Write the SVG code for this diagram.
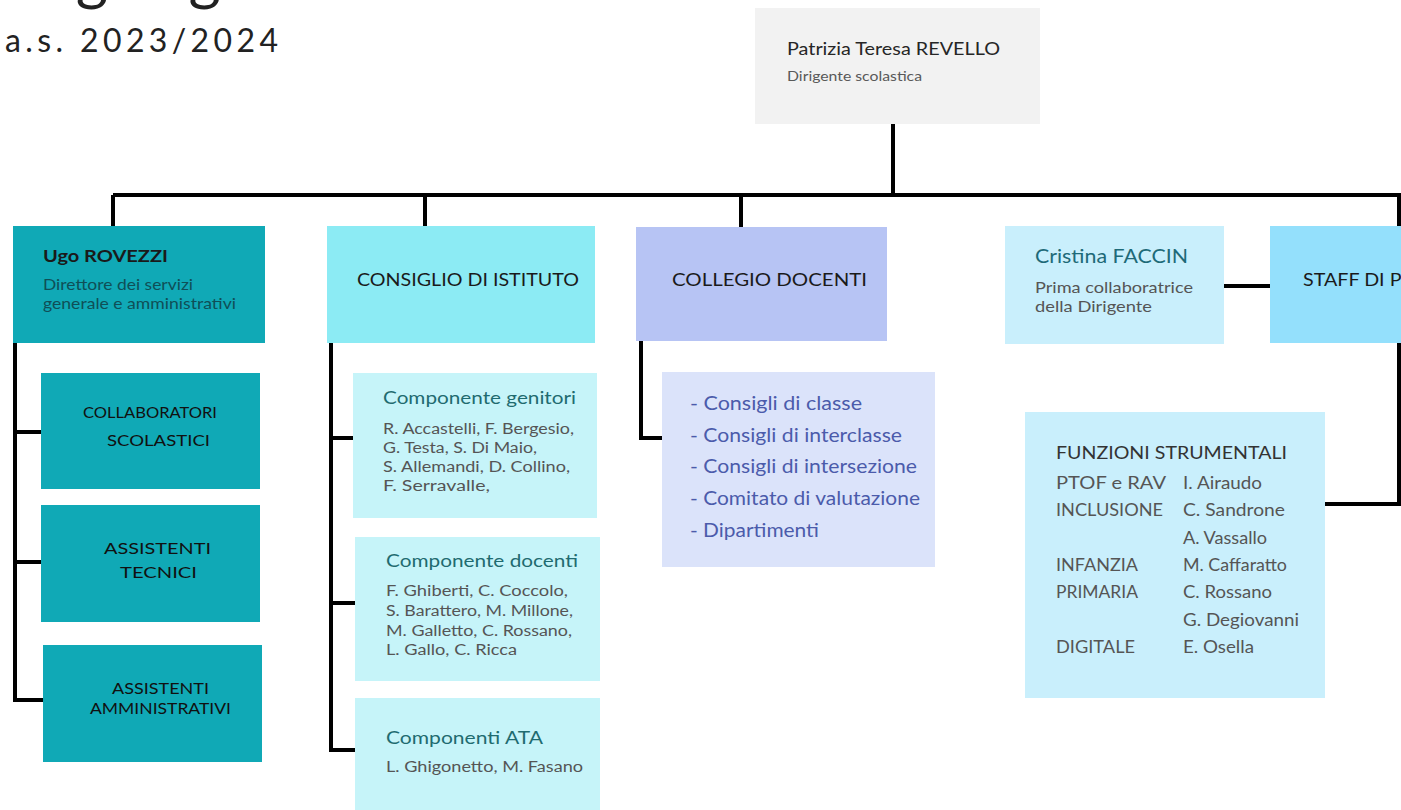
<svg xmlns="http://www.w3.org/2000/svg" width="1401" height="810" viewBox="0 0 1401 810">
<style>
text{font-family:Lato,"Open Sans","Liberation Sans",sans-serif}
.conn{fill:none;stroke:#000;stroke-width:4;stroke-linejoin:miter}
.hd{font-size:17px;fill:#1a1a1a}
.teal{fill:#10a9b6}
.cap{font-size:16px;fill:#111}
.ct{font-size:17px;fill:#1f6b70}
.cl{font-size:15.5px;fill:#555}
.fs{font-size:16.5px;fill:#555}
.li{font-size:19.5px;fill:#4b5bab}
</style>
<text x="5" y="-2" font-size="62" fill="#222">Organigramma</text>
<text x="5" y="52" font-size="32" fill="#222" textLength="273" lengthAdjust="spacing">a.s. 2023/2024</text>

<g id="connectors">
<path class="conn" d="M893 124V195M113 195H1399V504H1325M113 195V226M425 195V227M741 195V228"/>
<path class="conn" d="M15 343V700H43M15 432H41M15 562H41"/>
<path class="conn" d="M331 343V750H355M331 438H353M331 603H355"/>
<path class="conn" d="M641 341V438H662"/>
<path class="conn" d="M1224 286H1270"/>
</g>

<g id="dirigente">
<rect x="755" y="8" width="285" height="116" fill="#f2f2f2"/>
<text x="787" y="55" font-size="18" fill="#262626" textLength="213" lengthAdjust="spacingAndGlyphs">Patrizia Teresa REVELLO</text>
<text x="787" y="81" font-size="14" fill="#595959" textLength="135" lengthAdjust="spacingAndGlyphs">Dirigente scolastica</text>
</g>

<g id="dsga">
<rect class="teal" x="13" y="226" width="252" height="117"/>
<text x="43" y="262" font-size="17" font-weight="bold" fill="#1a1a1a" textLength="125" lengthAdjust="spacingAndGlyphs">Ugo ROVEZZI</text>
<text x="43" y="290" font-size="16" fill="#0f4f57" textLength="150" lengthAdjust="spacingAndGlyphs">Direttore dei servizi</text>
<text x="43" y="309" font-size="16" fill="#0f4f57" textLength="193" lengthAdjust="spacingAndGlyphs">generale e amministrativi</text>
</g>
<g id="collaboratori">
<rect class="teal" x="41" y="373" width="219" height="116"/>
<text class="cap" x="83" y="418" textLength="134" lengthAdjust="spacingAndGlyphs">COLLABORATORI</text>
<text class="cap" x="107" y="446" textLength="103" lengthAdjust="spacingAndGlyphs">SCOLASTICI</text>
</g>
<g id="tecnici">
<rect class="teal" x="41" y="505" width="219" height="117"/>
<text class="cap" x="104" y="554" textLength="107" lengthAdjust="spacingAndGlyphs">ASSISTENTI</text>
<text class="cap" x="120" y="578" textLength="77" lengthAdjust="spacingAndGlyphs">TECNICI</text>
</g>
<g id="amministrativi">
<rect class="teal" x="43" y="645" width="219" height="117"/>
<text class="cap" x="112" y="694" textLength="97" lengthAdjust="spacingAndGlyphs">ASSISTENTI</text>
<text class="cap" x="90" y="714" textLength="141" lengthAdjust="spacingAndGlyphs">AMMINISTRATIVI</text>
</g>

<g id="consiglio">
<rect x="327" y="226" width="268" height="117" fill="#8cebf4"/>
<text class="hd" x="357" y="286" textLength="222" lengthAdjust="spacingAndGlyphs">CONSIGLIO DI ISTITUTO</text>
</g>
<g id="genitori">
<rect x="353" y="373" width="244" height="145" fill="#c6f4f9"/>
<text class="ct" x="383" y="404" textLength="193" lengthAdjust="spacingAndGlyphs">Componente genitori</text>
<text class="cl" x="383" y="434" textLength="191" lengthAdjust="spacingAndGlyphs">R. Accastelli, F. Bergesio,</text>
<text class="cl" x="383" y="453" textLength="154" lengthAdjust="spacingAndGlyphs">G. Testa, S. Di Maio,</text>
<text class="cl" x="383" y="472" textLength="187" lengthAdjust="spacingAndGlyphs">S. Allemandi, D. Collino,</text>
<text class="cl" x="383" y="491" textLength="107" lengthAdjust="spacingAndGlyphs">F. Serravalle,</text>
</g>
<g id="docenti">
<rect x="355" y="537" width="245" height="144" fill="#c6f4f9"/>
<text class="ct" x="386" y="567" textLength="192" lengthAdjust="spacingAndGlyphs">Componente docenti</text>
<text class="cl" x="386" y="596" textLength="182" lengthAdjust="spacingAndGlyphs">F. Ghiberti, C. Coccolo,</text>
<text class="cl" x="386" y="616" textLength="187" lengthAdjust="spacingAndGlyphs">S. Barattero, M. Millone,</text>
<text class="cl" x="386" y="636" textLength="186" lengthAdjust="spacingAndGlyphs">M. Galletto, C. Rossano,</text>
<text class="cl" x="386" y="655" textLength="131" lengthAdjust="spacingAndGlyphs">L. Gallo, C. Ricca</text>
</g>
<g id="ata">
<rect x="355" y="698" width="245" height="112" fill="#c6f4f9"/>
<text class="ct" x="386" y="744" textLength="157" lengthAdjust="spacingAndGlyphs">Componenti ATA</text>
<text class="cl" x="386" y="772" textLength="197" lengthAdjust="spacingAndGlyphs">L. Ghigonetto, M. Fasano</text>
</g>

<g id="collegio">
<rect x="636" y="227" width="251" height="114" fill="#b7c4f4"/>
<text class="hd" x="672" y="286" textLength="195" lengthAdjust="spacingAndGlyphs">COLLEGIO DOCENTI</text>
</g>
<g id="consigli">
<rect x="662" y="372" width="273" height="195" fill="#dbe3fa"/>
<text class="li" x="690" y="410" textLength="172" lengthAdjust="spacingAndGlyphs">- Consigli di classe</text>
<text class="li" x="690" y="442" textLength="212" lengthAdjust="spacingAndGlyphs">- Consigli di interclasse</text>
<text class="li" x="690" y="473" textLength="227" lengthAdjust="spacingAndGlyphs">- Consigli di intersezione</text>
<text class="li" x="690" y="505" textLength="230" lengthAdjust="spacingAndGlyphs">- Comitato di valutazione</text>
<text class="li" x="690" y="537" textLength="129" lengthAdjust="spacingAndGlyphs">- Dipartimenti</text>
</g>

<g id="faccin">
<rect x="1005" y="226" width="219" height="118" fill="#c9effc"/>
<text x="1035" y="263" font-size="19" fill="#1e6a78" textLength="153" lengthAdjust="spacingAndGlyphs">Cristina FACCIN</text>
<text x="1035" y="293" font-size="16" fill="#555" textLength="158" lengthAdjust="spacingAndGlyphs">Prima collaboratrice</text>
<text x="1035" y="312" font-size="16" fill="#555" textLength="117" lengthAdjust="spacingAndGlyphs">della Dirigente</text>
</g>
<g id="staff">
<rect x="1270" y="226" width="140" height="117" fill="#94e0fc"/>
<text class="hd" x="1303" y="286" textLength="205" lengthAdjust="spacingAndGlyphs">STAFF DI PRESIDENZA</text>
</g>
<g id="funzioni">
<rect x="1025" y="412" width="300" height="286" fill="#c9effc"/>
<text x="1056" y="459" font-size="16.5" fill="#333" textLength="231" lengthAdjust="spacingAndGlyphs">FUNZIONI STRUMENTALI</text>
<text class="fs" x="1056" y="489" textLength="110" lengthAdjust="spacingAndGlyphs">PTOF e RAV</text>
<text class="fs" x="1183" y="489" textLength="79" lengthAdjust="spacingAndGlyphs">I. Airaudo</text>
<text class="fs" x="1056" y="516" textLength="107" lengthAdjust="spacingAndGlyphs">INCLUSIONE</text>
<text class="fs" x="1183" y="516" textLength="102" lengthAdjust="spacingAndGlyphs">C. Sandrone</text>
<text class="fs" x="1183" y="544" textLength="84" lengthAdjust="spacingAndGlyphs">A. Vassallo</text>
<text class="fs" x="1056" y="571" textLength="82" lengthAdjust="spacingAndGlyphs">INFANZIA</text>
<text class="fs" x="1183" y="571" textLength="104" lengthAdjust="spacingAndGlyphs">M. Caffaratto</text>
<text class="fs" x="1056" y="598" textLength="82" lengthAdjust="spacingAndGlyphs">PRIMARIA</text>
<text class="fs" x="1183" y="598" textLength="89" lengthAdjust="spacingAndGlyphs">C. Rossano</text>
<text class="fs" x="1183" y="626" textLength="116" lengthAdjust="spacingAndGlyphs">G. Degiovanni</text>
<text class="fs" x="1056" y="653" textLength="79" lengthAdjust="spacingAndGlyphs">DIGITALE</text>
<text class="fs" x="1183" y="653" textLength="71" lengthAdjust="spacingAndGlyphs">E. Osella</text>
</g>
</svg>
